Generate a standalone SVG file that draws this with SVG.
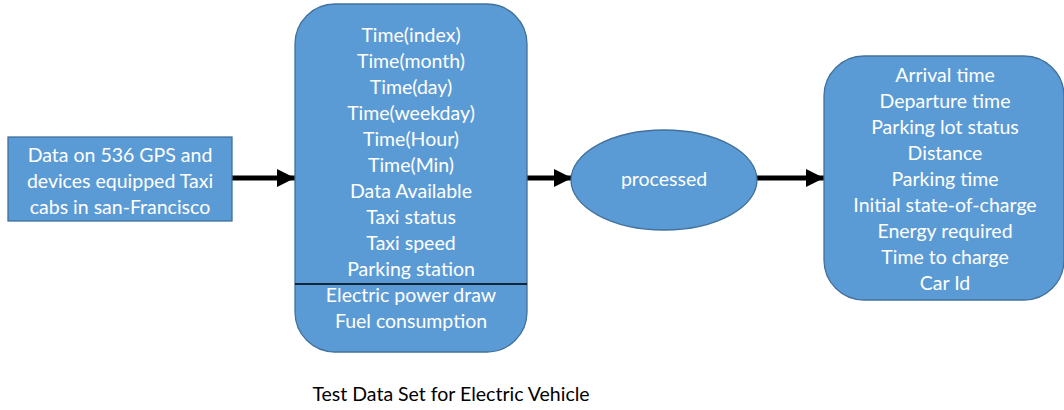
<svg xmlns="http://www.w3.org/2000/svg" width="1064" height="410" viewBox="0 0 1064 410">
  <style>
    .box { fill: #5B9BD5; stroke: #41719C; stroke-width: 1.3; }
    .lbl { font-family: Lato, "Open Sans", "Liberation Sans", sans-serif; font-size: 19.5px; fill: #ffffff; text-anchor: middle; }
    .cap { font-family: Lato, "Open Sans", "Liberation Sans", sans-serif; font-size: 19.5px; fill: #000000; text-anchor: middle; }
    .conn { stroke: #000000; stroke-width: 5; fill: none; }
  </style>
  <defs>
    <marker id="arrow" viewBox="0 0 10 10" refX="10" refY="5" markerWidth="3.8" markerHeight="3.6" orient="auto" markerUnits="strokeWidth">
      <path d="M0,0 L10,5 L0,10 z" fill="#000000"/>
    </marker>
  </defs>

  <rect width="1064" height="410" fill="#ffffff"/>

  <g id="connectors">
    <line class="conn" x1="232" y1="178" x2="295" y2="178" marker-end="url(#arrow)"/>
    <line class="conn" x1="527" y1="178" x2="572" y2="178" marker-end="url(#arrow)"/>
    <line class="conn" x1="757" y1="178" x2="824" y2="178" marker-end="url(#arrow)"/>
  </g>

  <g id="source">
    <rect class="box" x="8" y="137" width="224" height="84"/>
    <text class="lbl" x="120" y="162">Data on 536 GPS and</text>
    <text class="lbl" x="120" y="188">devices equipped Taxi</text>
    <text class="lbl" x="120" y="214">cabs in san-Francisco</text>
  </g>

  <g id="dataset">
    <rect class="box" x="295" y="4" width="232" height="348" rx="40" ry="40"/>
    <line x1="295" y1="284" x2="527" y2="284" stroke="#000000" stroke-width="1.5"/>
    <text class="lbl" x="411" y="42">Time(index)</text>
    <text class="lbl" x="411" y="68">Time(month)</text>
    <text class="lbl" x="411" y="94">Time(day)</text>
    <text class="lbl" x="411" y="120">Time(weekday)</text>
    <text class="lbl" x="411" y="146">Time(Hour)</text>
    <text class="lbl" x="411" y="172">Time(Min)</text>
    <text class="lbl" x="411" y="198">Data Available</text>
    <text class="lbl" x="411" y="224">Taxi status</text>
    <text class="lbl" x="411" y="250">Taxi speed</text>
    <text class="lbl" x="411" y="276">Parking station</text>
    <text class="lbl" x="411" y="302">Electric power draw</text>
    <text class="lbl" x="411" y="328">Fuel consumption</text>
  </g>

  <g id="processed">
    <ellipse class="box" cx="664" cy="180" rx="93" ry="50"/>
    <text class="lbl" x="664" y="186">processed</text>
  </g>

  <g id="output">
    <rect class="box" x="824" y="56" width="240" height="244" rx="40" ry="40"/>
    <text class="lbl" x="945" y="82">Arrival time</text>
    <text class="lbl" x="945" y="108">Departure time</text>
    <text class="lbl" x="945" y="134">Parking lot status</text>
    <text class="lbl" x="945" y="160">Distance</text>
    <text class="lbl" x="945" y="186">Parking time</text>
    <text class="lbl" x="945" y="212">Initial state-of-charge</text>
    <text class="lbl" x="945" y="238">Energy required</text>
    <text class="lbl" x="945" y="264">Time to charge</text>
    <text class="lbl" x="945" y="290">Car Id</text>
  </g>

  <text class="cap" x="451" y="401">Test Data Set for Electric Vehicle</text>
</svg>
